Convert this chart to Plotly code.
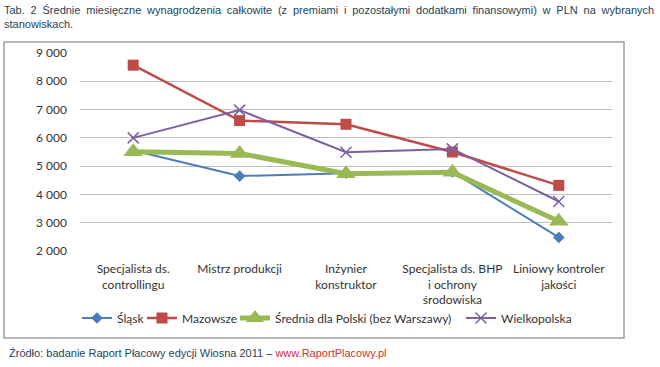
import plotly.graph_objects as go

categories = ["Specjalista ds.<br>controllingu", "Mistrz produkcji", "Inżynier<br>konstruktor",
              "Specjalista ds. BHP<br>i ochrony<br>środowiska", "Liniowy kontroler<br>jakości"]
slask = [5550, 4650, 4750, 4800, 2480]
mazowsze = [8570, 6610, 6480, 5500, 4320]
srednia = [5510, 5450, 4730, 4780, 3050]
wielkopolska = [6000, 6980, 5490, 5610, 3750]
y_ticks = [2000, 3000, 4000, 5000, 6000, 7000, 8000, 9000]
y_tick_labels = ["2 000", "3 000", "4 000", "5 000", "6 000", "7 000", "8 000", "9 000"]

PL, PR, PT, PB = 80, 612, 53, 251
PW, PH = PR - PL, PB - PT


def px_x(px):
    return (px - PL) / PW


def px_y(py):
    return (PB - py) / PH


xs = list(range(len(categories)))
fig = go.Figure()
fig.add_trace(go.Scatter(x=xs, y=slask, name="Śląsk", mode="lines+markers", legend="legend",
                         line=dict(color="#4A7EBB", width=2),
                         marker=dict(symbol="diamond", size=9, color="#4A7EBB")))
fig.add_trace(go.Scatter(x=xs, y=mazowsze, name="Mazowsze", mode="lines+markers", legend="legend2",
                         line=dict(color="#BE4B48", width=2.5),
                         marker=dict(symbol="square", size=11, color="#BE4B48")))
fig.add_trace(go.Scatter(x=xs, y=srednia, name="Średnia dla Polski (bez Warszawy)", mode="lines+markers",
                         legend="legend3",
                         line=dict(color="#98B954", width=5),
                         marker=dict(symbol="triangle-up", size=17, color="#98B954")))
fig.add_trace(go.Scatter(x=xs, y=wielkopolska, name="Wielkopolska", mode="lines+markers", legend="legend4",
                         line=dict(color="#7D60A0", width=2),
                         marker=dict(symbol="x-thin", size=11, line=dict(color="#7D60A0", width=1.5))))

leg_common = dict(orientation="h", xanchor="left", y=px_y(318), yanchor="middle",
                  font=dict(size=12, color="#333333"), bgcolor="rgba(0,0,0,0)", borderwidth=0)
line_centers = [98, 163, 256, 482]

fig.update_layout(
    width=660, height=367,
    margin=dict(l=PL, r=660 - PR, t=PT, b=367 - PB),
    paper_bgcolor="white", plot_bgcolor="white",
    font=dict(family="Lato, Open Sans, sans-serif", size=12, color="#333333"),
    showlegend=True,
    legend=dict(x=px_x(line_centers[0] - 21), **leg_common),
    legend2=dict(x=px_x(line_centers[1] - 21), **leg_common),
    legend3=dict(x=px_x(line_centers[2] - 21), **leg_common),
    legend4=dict(x=px_x(line_centers[3] - 21), **leg_common),
    xaxis=dict(tickmode="array", tickvals=xs, ticktext=categories, range=[-0.5, 4.5],
               showgrid=False, zeroline=False, showline=False, ticks="", ticklabelstandoff=9,
               tickfont=dict(size=12, color="#333333")),
    yaxis=dict(tickmode="array", tickvals=y_ticks, ticktext=y_tick_labels, range=[2000, 9000],
               showgrid=True, gridcolor="#BFBFBF", gridwidth=1, zeroline=False, showline=False,
               ticks="", ticklabelstandoff=12, tickfont=dict(size=12, color="#333333")),
)

# chart area border
fig.add_shape(type="rect", xref="paper", yref="paper",
              x0=px_x(4), x1=px_x(624), y0=px_y(338), y1=px_y(42),
              line=dict(color="#A0A0A0", width=1.5), fillcolor="rgba(0,0,0,0)", layer="below")

sp = " \u2005"
line1 = sp.join("Tab. 2 Średnie miesięczne wynagrodzenia całkowite (z premiami i pozostałymi dodatkami finansowymi) w PLN na wybranych".split(" "))
fig.add_annotation(xref="paper", yref="paper", x=px_x(2), y=px_y(2),
                   xanchor="left", yanchor="top", align="left", showarrow=False,
                   text=line1 + "<br>stanowiskach.",
                   font=dict(family="Liberation Sans, Arial, sans-serif", size=11, color="#1F3F55"))
fig.add_annotation(xref="paper", yref="paper", x=px_x(7), y=px_y(353),
                   xanchor="left", yanchor="middle", align="left", showarrow=False,
                   text="Źródło: badanie Raport Płacowy edycji Wiosna 2011 – <span style='color:#CC3333'>www.RaportPlacowy.pl</span>",
                   font=dict(family="Liberation Sans, Arial, sans-serif", size=11, color="#1F3F55"))

fig.write_html("out.html", config={"displayModeBar": False},
               post_script="document.body.style.margin='0';document.body.style.overflow='hidden';")
